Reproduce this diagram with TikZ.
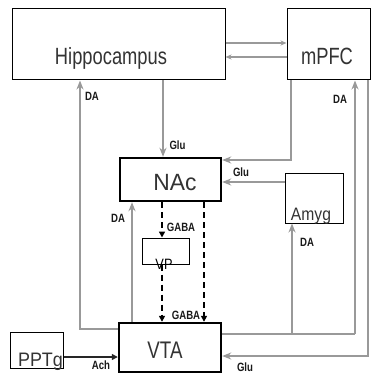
\documentclass[tikz,border=0pt]{standalone}
\usepackage{fontspec}
\setmainfont{Liberation Sans}
\usepackage{graphicx}
\usetikzlibrary{arrows.meta}
\newcommand{\sqz}[2]{\scalebox{#1}[1]{#2}}
\begin{document}
\begin{tikzpicture}[x=1pt,y=-1pt,
  box/.style={draw=black,line width=1pt,inner sep=0pt,fill=none},
  thickbox/.style={draw=black,line width=2.4pt,inner sep=0pt},
  big/.style={inner sep=0pt,anchor=base,text=black!80},
  lbl/.style={inner sep=0pt,text=black!90,font=\fontsize{12}{12}\selectfont\bfseries},
  garrow/.style={draw=black!40,line width=1.6pt,-{Stealth[length=9pt,width=7pt]}},
  gline/.style={draw=black!40,line width=1.6pt},
  tarrow/.style={draw=black!40,line width=1.1pt,-{Stealth[length=6pt,width=5pt]}},
  darrow/.style={draw=black,line width=1.5pt,dash pattern=on 6pt off 4pt,-{Triangle[length=6pt,width=6pt]}},
  karrow/.style={draw=black!85,line width=1.3pt,-{Triangle[length=6pt,width=6pt]}}]
\useasboundingbox (0,0) rectangle (371,374);
% boxes
\node[box,minimum width=213pt,minimum height=71pt] (hip) at (118.5,44.5) {};
\node[box,minimum width=83pt,minimum height=71pt] (mpfc) at (328.5,44.5) {};
\node[thickbox,minimum width=101pt,minimum height=43pt] (nac) at (170.5,179.5) {};
\node[box,minimum width=58pt,minimum height=50pt] (amyg) at (314,198) {};
\node[box,minimum width=47pt,minimum height=26pt] (vp) at (165.5,251) {};
\node[thickbox,minimum width=102pt,minimum height=49pt] (vta) at (170,347.5) {};
\node[box,minimum width=53pt,minimum height=36pt] (pptg) at (36.5,350) {};
% box texts
\node[big,font=\fontsize{23.5}{24}\selectfont] (hipT) at (111,65) {\sqz{0.78}{Hippocampus}};
\node[big,font=\fontsize{23.5}{24}\selectfont] (mpfcT) at (327,65) {\sqz{0.78}{mPFC}};
\node[big,font=\fontsize{23.5}{24}\selectfont] (nacT) at (175,190) {\sqz{0.97}{NAc}};
\node[big,font=\fontsize{24}{24}\selectfont] (vtaT) at (165,358) {\sqz{0.78}{VTA}};
\node[big,font=\fontsize{18}{18}\selectfont] (amygT) at (311,220) {\sqz{0.87}{Amyg}};
\node[big,font=\fontsize{19.5}{20}\selectfont] (pptgT) at (40.5,366) {\sqz{0.92}{PPTg}};
\node[big,font=\fontsize{15}{15}\selectfont,text=black] (vpT) at (164,269) {\sqz{0.85}{VP}};
% helper coordinates
\coordinate (y43) at (0,43);
\coordinate (y57) at (0,57);
\coordinate (x163) at (163,0);
\coordinate (x291) at (291,0);
\coordinate (y160) at (0,160);
\coordinate (y182) at (0,182);
\coordinate (x80) at (80,0);
\coordinate (y329) at (0,329);
\coordinate (x132) at (132,0);
\coordinate (y334) at (0,334);
\coordinate (x292) at (292,0);
\coordinate (x355) at (355,0);
\coordinate (x368) at (368,0);
\coordinate (y356) at (0,356);
\coordinate (y357) at (0,357);
\coordinate (x162) at (162,0);
\coordinate (x204) at (204,0);
\coordinate (c1) at (291,160);
\coordinate (c2) at (80,329);
\coordinate (c3) at (355,334);
\coordinate (c4) at (292,334);
\coordinate (c5) at (368,356);
% connectors
\draw[tarrow] (hip.east |- y43) -- (mpfc.west |- y43);
\draw[tarrow] (mpfc.west |- y57) -- (hip.east |- y57);
\draw[garrow] (hip.south -| x163) -- (nac.north -| x163);
\draw[garrow] (mpfc.south -| x291) -- (c1) -- (nac.east |- y160);
\draw[garrow] (amyg.west |- y182) -- (nac.east |- y182);
\draw[garrow] (vta.west |- y329) -- (c2) -- (hip.south -| x80);
\draw[garrow] (vta.north -| x132) -- (nac.south -| x132);
\draw[gline] (vta.east |- y334) -- (c3);
\draw[garrow] (c4) -- (amyg.south -| x292);
\draw[garrow] (c3) -- (mpfc.south -| x355);
\draw[garrow] (mpfc.south -| x368) -- (c5) -- (vta.east |- y356);
\draw[karrow] (pptg.east |- y357) -- (vta.west |- y357);
\draw[darrow] (nac.south -| x162) -- (vp.north -| x162);
\draw[darrow] (vp.south -| x162) -- (vta.north -| x162);
\draw[darrow] (nac.south -| x204) -- (vta.north -| x204);
% labels
\node[lbl] (l1) at (92,96.5) {\sqz{0.8}{DA}};
\node[lbl] (l2) at (177.5,145) {\sqz{0.8}{Glu}};
\node[lbl] (l3) at (241,172) {\sqz{0.8}{Glu}};
\node[lbl] (l4) at (340,99) {\sqz{0.8}{DA}};
\node[lbl] (l5) at (118,218) {\sqz{0.8}{DA}};
\node[lbl] (l6) at (307,242.5) {\sqz{0.8}{DA}};
\node[lbl] (l7) at (181,227) {\sqz{0.8}{GABA}};
\node[lbl] (l8) at (186,315.5) {\sqz{0.8}{GABA}};
\node[lbl] (l9) at (245,367) {\sqz{0.8}{Glu}};
\node[lbl] (l10) at (101,365) {\sqz{0.8}{Ach}};
\end{tikzpicture}
\end{document}
